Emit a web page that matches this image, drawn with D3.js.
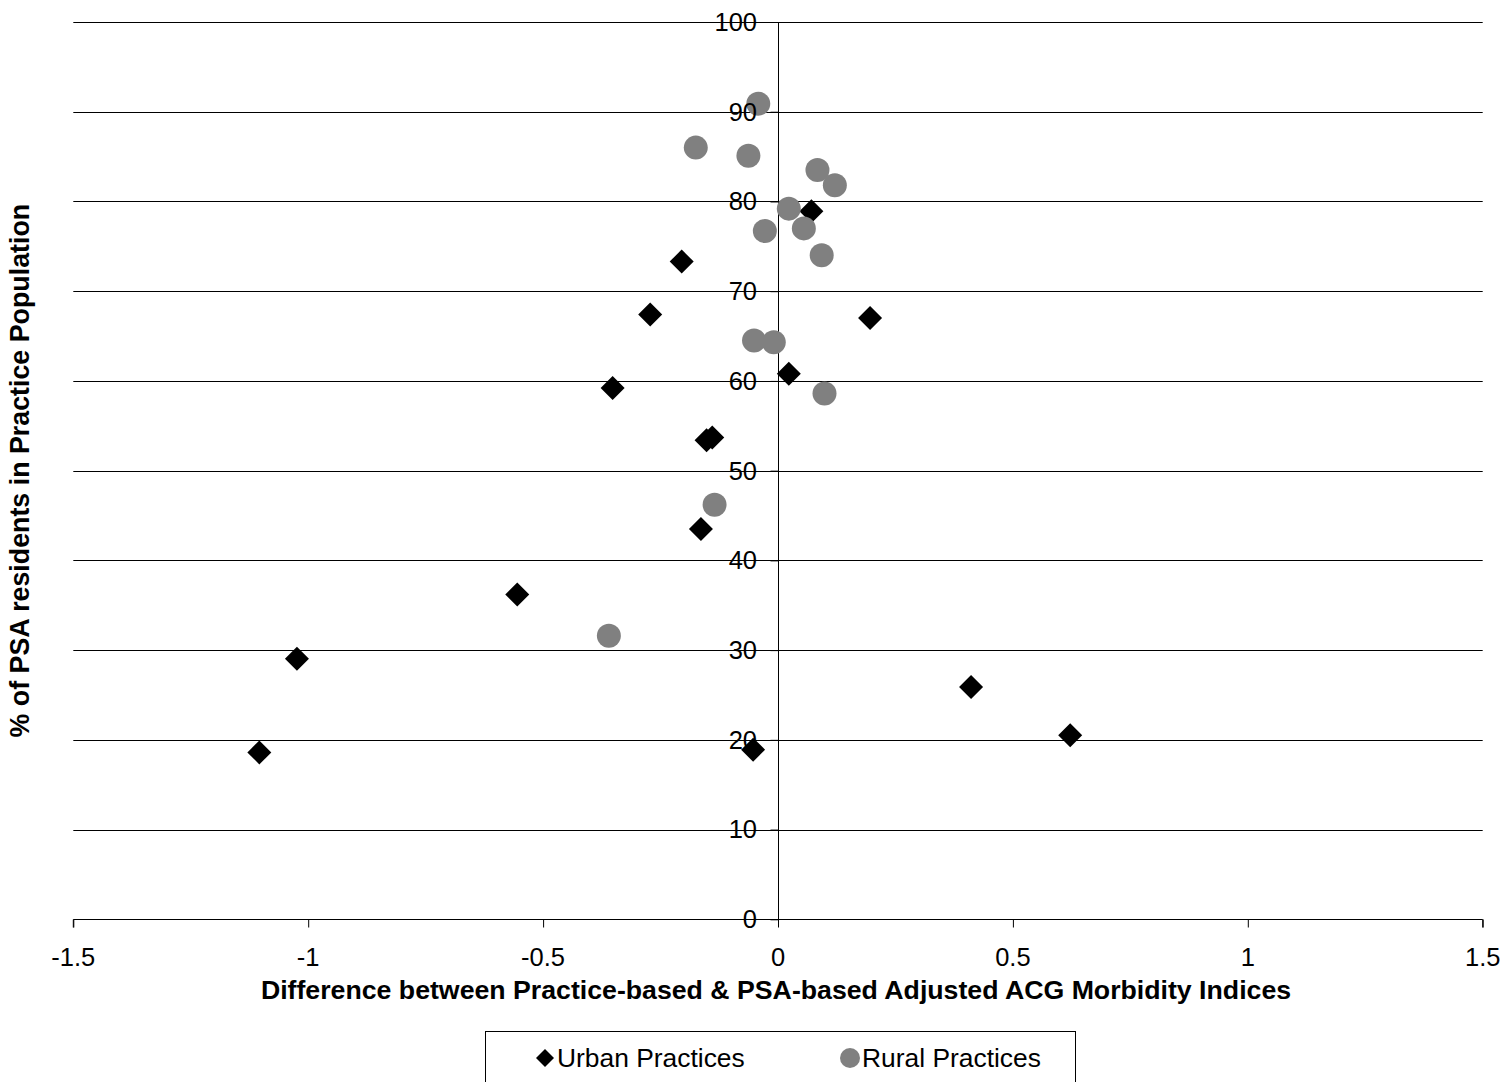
<!DOCTYPE html>
<html>
<head>
<meta charset="utf-8">
<script src="https://cdn.jsdelivr.net/npm/d3@7"></script>
<style>
  html, body { margin: 0; padding: 0; background: #fff; }
  svg { display: block; font-family: "Liberation Sans", Arial, sans-serif; }
</style>
</head>
<body>
<svg id="chart" width="1504" height="1082"></svg>
<script>
// ---- data ----
const urbanX = [0.071, -0.205, -0.272, 0.196, -0.352, 0.023, -0.152, -0.140, -0.164, -0.555, -1.024, -1.104, -0.053, 0.411, 0.622];
const urbanY = [78.9, 73.3, 67.4, 67.0, 59.2, 60.8, 53.4, 53.7, 43.5, 36.2, 29.05, 18.6, 18.9, 25.9, 20.5];
const ruralX = [-0.042, -0.175, -0.063, 0.084, 0.121, 0.023, -0.028, 0.055, 0.093, -0.051, -0.009, 0.099, -0.135, -0.360];
const ruralY = [90.9, 86.0, 85.1, 83.5, 81.8, 79.2, 76.7, 77.0, 74.0, 64.5, 64.3, 58.6, 46.2, 31.6];
const xTicks = [-1.5, -1, -0.5, 0, 0.5, 1, 1.5];
const xTickLabels = ["-1.5", "-1", "-0.5", "0", "0.5", "1", "1.5"];
const yTicks = [0, 10, 20, 30, 40, 50, 60, 70, 80, 90, 100];
const seriesNames = ["Urban Practices", "Rural Practices"];
const xTitle = "Difference between Practice-based & PSA-based Adjusted ACG Morbidity Indices";
const yTitle = "% of PSA residents in Practice Population";

// ---- layout ----
const svg = d3.select("#chart");
const x = d3.scaleLinear().domain([-1.5, 1.5]).range([73.3, 1482.7]);
const y = d3.scaleLinear().domain([0, 100]).range([919.3, 22]);
const crisp = v => Math.round(v) + 0.5;

// gridlines
svg.append("g").selectAll("line").data(yTicks.filter(d => d !== 0)).join("line")
  .attr("x1", x(-1.5)).attr("x2", x(1.5))
  .attr("y1", d => crisp(y(d))).attr("y2", d => crisp(y(d)))
  .attr("stroke", "#000").attr("stroke-width", 1);

// x axis line + ticks
const xAxis = svg.append("g").attr("transform", `translate(0,${crisp(y(0))})`)
  .call(d3.axisBottom(x).tickValues(xTicks).tickSize(8).tickFormat(""));
xAxis.select(".domain").attr("stroke", "#000").attr("d", `M${x(-1.5)},8V0H${x(1.5)}V8`);
xAxis.selectAll(".tick line").attr("stroke", "#000");

// y axis line + ticks at x=0
const yAxis = svg.append("g").attr("transform", `translate(${crisp(x(0))},0)`)
  .call(d3.axisLeft(y).tickValues(yTicks).tickSize(8).tickFormat(""));
yAxis.select(".domain").attr("stroke", "#000").attr("d", `M0,${y(100)}V${y(0)}`);
yAxis.selectAll(".tick line").attr("stroke", "#000");

// urban diamonds
const dSize = 12;
svg.append("g").selectAll("path").data(urbanX.map((v, i) => [v, urbanY[i]])).join("path")
  .attr("d", d => {
    const cx = x(d[0]), cy = y(d[1]);
    return `M${cx},${cy - dSize}L${cx + dSize},${cy}L${cx},${cy + dSize}L${cx - dSize},${cy}Z`;
  })
  .attr("fill", "#000");

// rural circles
svg.append("g").selectAll("circle").data(ruralX.map((v, i) => [v, ruralY[i]])).join("circle")
  .attr("cx", d => x(d[0])).attr("cy", d => y(d[1])).attr("r", 12)
  .attr("fill", "#808080");

// tick labels
svg.append("g").selectAll("text").data(yTicks).join("text")
  .attr("x", 757).attr("y", d => y(d)).attr("dy", "0.35em")
  .attr("text-anchor", "end").attr("font-size", 25.5).attr("fill", "#000")
  .text(d => d);
svg.append("g").selectAll("text").data(xTicks).join("text")
  .attr("x", d => x(d)).attr("y", 966)
  .attr("text-anchor", "middle").attr("font-size", 25.5).attr("fill", "#000")
  .text((d, i) => xTickLabels[i]);

// axis titles
svg.append("text").attr("x", 776).attr("y", 999)
  .attr("text-anchor", "middle").attr("font-size", 26.7).attr("font-weight", "bold")
  .text(xTitle);
svg.append("text").attr("transform", `translate(29,${(y(0) + y(100)) / 2}) rotate(-90)`)
  .attr("text-anchor", "middle").attr("font-size", 26.8).attr("font-weight", "bold")
  .text(yTitle);

// legend
const lg = svg.append("g");
lg.append("rect").attr("x", 485.5).attr("y", 1031.5).attr("width", 590).attr("height", 70)
  .attr("fill", "#fff").attr("stroke", "#000").attr("stroke-width", 1);
const lx = [545, 850];
lg.append("path")
  .attr("d", `M${lx[0]},${1058 - 9}L${lx[0] + 9},1058L${lx[0]},${1058 + 9}L${lx[0] - 9},1058Z`)
  .attr("fill", "#000");
lg.append("circle").attr("cx", lx[1]).attr("cy", 1058).attr("r", 10).attr("fill", "#808080");
lg.selectAll("text.lbl").data(seriesNames).join("text").attr("class", "lbl")
  .attr("x", (d, i) => lx[i] + 12).attr("y", 1067)
  .attr("font-size", 26.4).attr("fill", "#000").text(d => d);
</script>
</body>
</html>
